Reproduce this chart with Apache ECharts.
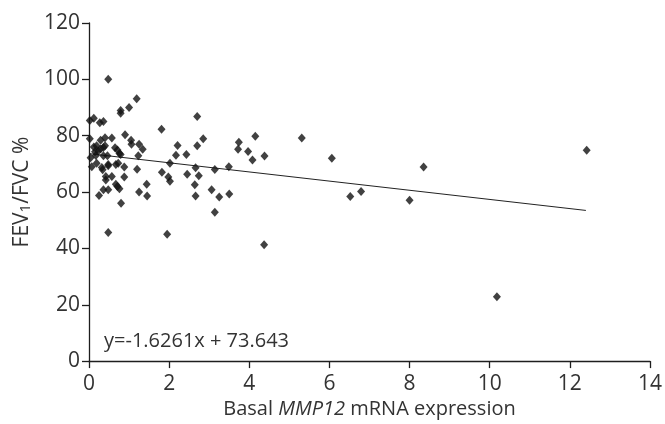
<!DOCTYPE html>
<html>
<head>
<meta charset="utf-8">
<script src="https://cdn.jsdelivr.net/npm/echarts@6/dist/echarts.min.js"></script>
<style>
html,body{margin:0;padding:0;background:#fff;}
#c{width:665px;height:424px;}
</style>
</head>
<body>
<div id="c"></div>
<script>
// Basal MMP12 mRNA expression (x) vs FEV1/FVC % (y)
var xValues = [
  1.81, 2.70, 2.85, 2.70, 2.21, 2.17, 2.43, 1.05, 1.06, 1.25, 1.34, 1.23, 1.20, 0.88, 0.88,
  1.44, 1.25, 1.45, 0.80, 0.48, 1.82, 1.98, 2.02, 2.02, 1.95, 2.45, 2.66, 2.64, 2.66, 2.74,
  3.06, 3.14, 3.25, 3.14, 3.49, 3.50, 3.74, 3.72, 3.97, 4.08, 4.15, 4.38, 4.37, 5.31, 6.06,
  6.52, 6.79, 8.00, 8.35, 10.18, 12.42,
  0.48, 1.19, 1.00, 0.79, 0.79, 0.02, 0.12, 0.27, 0.36, 0.02, 0.57, 0.40, 0.29, 0.90,
  0.12, 0.19, 0.15, 0.23, 0.29, 0.36, 0.40, 0.17, 0.04, 0.36, 0.46,
  0.65, 0.71, 0.76, 0.79,
  0.07, 0.19, 0.32, 0.34, 0.48, 0.48, 0.67, 0.73,
  0.42, 0.42, 0.57,
  0.67, 0.71, 0.76, 0.36, 0.48, 0.25
];
var yValues = [
  82.3, 86.8, 78.9, 76.4, 76.5, 73.1, 73.3, 78.4, 77.0, 77.0, 75.2, 72.9, 68.1, 68.9, 65.3,
  62.8, 60.0, 58.6, 56.0, 45.6, 67.0, 65.3, 63.8, 70.2, 45.0, 66.3, 68.6, 62.6, 58.6, 65.8,
  60.8, 68.0, 58.2, 52.8, 69.0, 59.3, 77.7, 75.2, 74.4, 71.4, 79.8, 72.8, 41.3, 79.2, 72.0,
  58.4, 60.2, 57.1, 68.9, 22.8, 74.8,
  100.0, 93.1, 90.0, 88.9, 88.0, 85.4, 86.2, 84.6, 85.0, 78.9, 79.2, 79.3, 78.4, 80.3,
  76.0, 76.4, 74.3, 74.6, 75.3, 75.8, 76.4, 73.0, 72.2, 72.9, 72.9,
  75.7, 74.9, 73.7, 73.3,
  69.0, 70.2, 68.7, 67.9, 69.8, 69.3, 69.8, 70.2,
  65.5, 64.3, 65.5,
  62.8, 62.0, 61.2, 60.8, 60.8, 58.8
];
// regression line
var fitSlope = -1.6261;
var fitIntercept = 73.643;
var fitRange = [0, 12.4];
var equationText = 'y=-1.6261x + 73.643';

var xTicks = {min: 0, max: 14, interval: 2};
var yTicks = {min: 0, max: 120, interval: 20};

var points = xValues.map(function (x, i) { return [x, yValues[i]]; });
var fitLine = fitRange.map(function (x) { return [x, fitSlope * x + fitIntercept]; });

var FONT = '"Open Sans"';
var TXT = '#333333';
var AX = '#1e1e1e';

var chart = echarts.init(document.getElementById('c'), null, {renderer: 'canvas'});
chart.setOption({
  animation: false,
  backgroundColor: '#fff',
  grid: {left: 89, right: 14, top: 23, bottom: 59, containLabel: false},
  xAxis: {
    type: 'value', min: xTicks.min, max: xTicks.max, interval: xTicks.interval,
    name: '{n|Basal }{i|MMP12}{n| mRNA expression}',
    nameLocation: 'middle', nameGap: 36,
    nameTextStyle: {
      rich: {
        n: {fontFamily: FONT, fontSize: 20, color: TXT},
        i: {fontFamily: FONT, fontSize: 20, color: TXT, fontStyle: 'italic'}
      }
    },
    axisLine: {show: true, onZero: false, lineStyle: {color: AX, width: 1.3}},
    axisTick: {show: true, length: 7, lineStyle: {color: AX, width: 1.3}},
    axisLabel: {fontFamily: FONT, fontSize: 21, color: TXT, margin: 12},
    splitLine: {show: false}
  },
  yAxis: {
    type: 'value', min: yTicks.min, max: yTicks.max, interval: yTicks.interval,
    name: '{n|FEV}{s|1}{n|/FVC %}',
    nameLocation: 'middle', nameGap: 56, nameRotate: 90,
    nameTextStyle: {
      rich: {
        n: {fontFamily: FONT, fontSize: 21, color: TXT, verticalAlign: 'bottom', lineHeight: 22},
        s: {fontFamily: FONT, fontSize: 15, color: TXT, verticalAlign: 'bottom', lineHeight: 20}
      }
    },
    axisLine: {show: true, onZero: false, lineStyle: {color: AX, width: 1.3}},
    axisTick: {show: true, length: 7, lineStyle: {color: AX, width: 1.3}},
    axisLabel: {fontFamily: FONT, fontSize: 21, color: TXT, margin: 9},
    splitLine: {show: false}
  },
  graphic: [{
    type: 'text', left: 104, top: 331,
    style: {text: equationText, fontFamily: FONT, fontSize: 20, fill: TXT}
  }],
  series: [
    {
      type: 'line', data: fitLine, symbol: 'none', silent: true,
      lineStyle: {color: '#222', width: 1}, z: 2
    },
    {
      type: 'scatter', data: points, symbol: 'diamond', symbolSize: [8, 9],
      itemStyle: {color: '#111'}, z: 3
    }
  ]
});
</script>
</body>
</html>
